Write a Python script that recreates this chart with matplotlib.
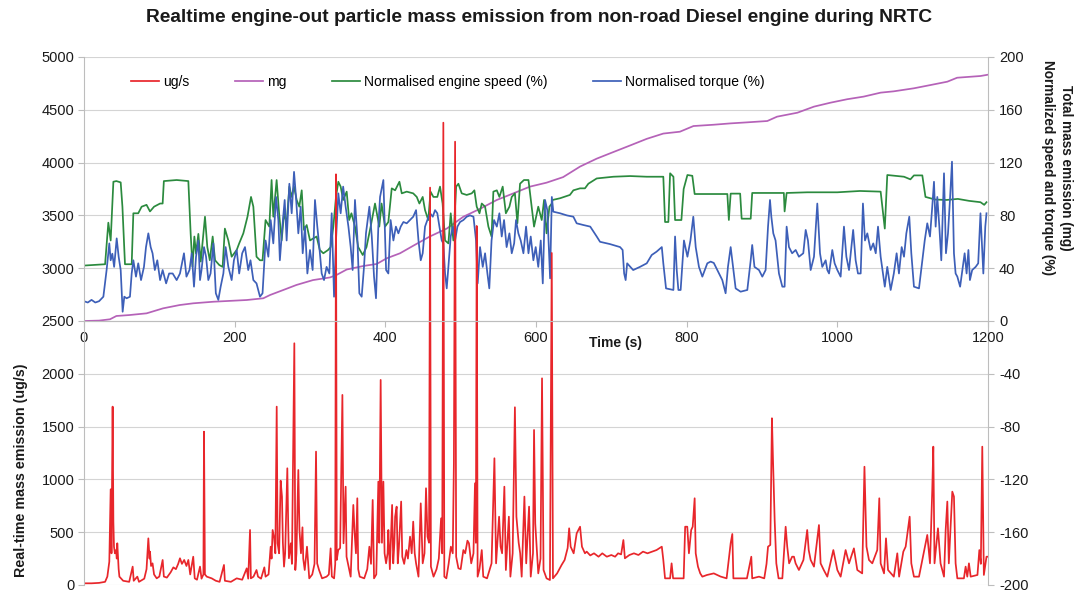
import matplotlib
matplotlib.use("Agg")
import matplotlib.pyplot as plt

plt.rcParams["font.family"] = ["Liberation Sans", "DejaVu Sans"]
plt.rcParams["axes.unicode_minus"] = False

RED = "#e8262b"
PURPLE = "#b562b8"
GREEN = "#2b8a3e"
BLUE = "#3d5fb8"
GRID = "#d4d4d4"
AXIS_GREY = "#bdbdbd"
TEXT = "#1a1a1a"

TITLE = "Realtime engine-out particle mass emission from non-road Diesel engine during NRTC"
X_TICKS = [0, 200, 400, 600, 800, 1000, 1200]
LEFT_TICKS = list(range(0, 5001, 500))
RIGHT_TICKS = list(range(-200, 201, 40))

# particle mass emission rate (ug/s), left axis
ugs_time = [
    0, 10, 20, 28, 31, 33.6, 35.4, 36.5, 38, 39, 39.8, 41, 42.5, 43.5, 44.2, 46, 47, 52, 60,
    64.6, 66, 70.8, 73, 80, 83, 85.4, 87, 87.6, 89, 91, 93, 96.5, 100, 104.4, 106, 110, 115,
    118.6, 122, 125, 127.4, 130, 133, 136, 138.5, 141, 145, 147, 150, 154, 156, 158.5, 159.3,
    160.5, 163, 169.5, 175, 180, 185.8, 187, 195, 202.7, 210, 216, 218, 220.4, 221.5, 225,
    229, 231, 235, 239.4, 241, 245, 247.8, 249, 250.4, 252.5, 254, 255.8, 257, 259, 261,
    262.8, 264, 265.5, 267, 269.9, 271, 272, 274.5, 276, 279.2, 280.5, 282, 284.5, 286, 288,
    290, 291, 293, 296, 299, 303, 306, 308, 309.5, 312, 316, 322, 325, 327.4, 329, 332,
    333.5, 334.5, 335.5, 337.5, 340, 343, 344.5, 347.3, 348.5, 352, 354, 357.5, 359, 361,
    362.8, 364, 366, 372, 376, 378.8, 381, 383.2, 385, 388, 390.7, 392, 393.8, 395.5, 397.4,
    399, 401, 403, 404, 406, 409, 410.5, 412, 413, 415, 416.5, 418, 421, 422.5, 425, 428,
    430, 432.8, 435, 437, 439, 440.8, 444, 447, 449.6, 452, 454, 456, 458, 459.4, 460.5, 464,
    468, 471, 474, 475.5, 477, 478.3, 481, 484, 487, 489.5, 491, 492.6, 494, 497, 500, 503.6,
    506, 509, 511, 514, 517, 519, 520.2, 521.3, 522.5, 525, 528, 530, 535, 541, 544.8, 547,
    551, 553, 555, 558, 560, 564, 566, 569, 572, 574, 577, 579, 581, 584.6, 587, 590.8, 593,
    596, 597.4, 599, 603, 606, 608, 610, 614, 618.5, 620.9, 622.5, 628, 634, 638, 642, 644,
    646, 650, 654, 658.5, 661, 665, 667.3, 672, 677, 683, 688, 694, 700, 705, 709, 713, 716,
    718, 724, 730, 736, 742, 748, 754, 760, 767, 769, 771.3, 774, 778, 780, 782, 790, 796,
    798, 800.8, 803, 806, 808, 810.6, 812, 815, 818, 820.8, 827, 836, 845, 853, 858.4, 860.6,
    862, 870, 880, 885.8, 887, 896, 903, 906, 908, 911, 913.2, 914.6, 916.8, 919, 922, 927,
    931.4, 933.5, 936, 940, 942.4, 944.6, 949, 955, 960, 962, 964.6, 969, 975.6, 977.8, 982,
    986.7, 994.7, 1000, 1004.4, 1011, 1015.5, 1022, 1026.5, 1033, 1036, 1038.7, 1042, 1046.4,
    1053, 1055.7, 1057.5, 1062, 1064.6, 1067.3, 1075, 1079.6, 1082, 1087.6, 1090.7, 1096,
    1098.2, 1101.7, 1108.4, 1115, 1119.4, 1123, 1126, 1127.4, 1129, 1133.6, 1137, 1141.6,
    1143.8, 1146, 1148, 1152.6, 1154.8, 1157, 1159.3, 1168, 1170.3, 1172.5, 1174.7, 1177,
    1186, 1188.5, 1190.5, 1192.4, 1194.5, 1198, 1200,
]
ugs_value = [
    16, 16, 20, 30, 80, 221, 906, 300, 1689, 600, 363, 300, 331, 250, 395, 150, 79, 40, 30,
    174, 40, 79, 30, 60, 150, 442, 250, 316, 180, 205, 100, 63, 80, 237, 80, 70, 120,
    167, 150, 200, 253, 200, 237, 180, 237, 100, 268, 63, 50, 174, 60, 100, 1452,
    100, 79, 63, 40, 30, 190, 40, 30, 63, 50, 158, 60, 521, 63, 79,
    142, 79, 60, 167, 79, 100, 363, 250, 521, 442, 300, 1689, 395, 300, 988,
    837, 400, 174, 300, 1105, 600, 253, 395, 200, 2289, 142, 300, 1089, 521, 300,
    546, 250, 142, 363, 63, 100, 200, 1263, 205, 142, 63, 79, 100, 347, 80, 63,
    200, 3889, 237, 331, 350, 1800, 395, 931, 268, 150, 79, 758, 521, 300,
    821, 150, 79, 63, 150, 363, 200, 805, 63, 100, 979, 400, 1942, 400, 979,
    300, 205, 300, 521, 150, 758, 205, 400, 647, 742, 205, 350, 790, 268, 200, 331,
    250, 458, 300, 600, 300, 205, 79, 773, 205, 300, 916, 458, 400, 3763, 174, 79,
    150, 250, 631, 300, 4378, 79, 63, 200, 363, 300, 1152, 4198, 268, 158, 150, 331,
    300, 420, 395, 205, 300, 963, 400, 3400, 79, 150, 331, 79, 63, 205, 1200, 205,
    647, 363, 300, 931, 142, 647, 79, 300, 1683, 647, 400, 300, 79, 837, 205, 742, 79,
    300, 1468, 583, 110, 250, 1957, 142, 63, 47, 3144, 63, 110, 190, 237, 350, 537,
    363, 300, 489, 552, 363, 300, 316, 280, 300, 268, 300, 268, 284, 268, 300, 290, 426,
    253, 284, 300, 284, 316, 300, 316, 331, 363, 237, 63, 63, 63, 205, 63, 63, 63,
    552, 552, 300, 521, 552, 821, 300, 174, 110, 79, 95, 110, 80, 63, 395, 483,
    63, 63, 63, 268, 63, 79, 63, 200, 363, 379, 1579, 1184, 616, 205, 63, 63,
    552, 363, 205, 268, 268, 205, 142, 237, 521, 331, 237, 174, 568, 205, 142,
    79, 331, 142, 79, 331, 205, 347, 142, 110, 1120, 363, 237, 205,
    331, 821, 205, 110, 442, 142, 79, 300, 79, 316, 363, 647,
    205, 79, 79, 316, 474, 205, 900, 1310, 205, 537, 205, 79,
    521, 790, 205, 884, 837, 205, 63, 63, 174, 79, 205, 79,
    95, 331, 200, 1310, 95, 268, 268,
]

# cumulative mass (mg), right axis
mass_time = [
    0, 20, 34.5, 43, 60, 83, 90, 105, 127, 145, 171.7, 216, 238, 247, 264.6, 282, 304, 326.5,
    335, 348.7, 371, 388.5, 401.8, 419.5, 437, 459, 481.5, 503.6, 525.7, 548, 570, 592, 614,
    636, 658.5, 680.6, 702.7, 725, 747, 769, 791, 809, 836, 858, 880.5, 907, 920, 947, 969,
    991, 1013, 1035, 1057.5, 1075, 1101.7, 1124, 1146, 1159, 1190, 1200,
]
mass_mg = [
    0, 0.3, 1.3, 3.8, 4.5, 5.8, 7, 9.6, 12.1, 13.4, 14.6, 15.9, 17.2, 19.7, 23.5, 27.3, 31, 33,
    34.8, 39, 41.7, 43.2, 47.5, 51.3, 57, 64, 70, 79, 85, 91.7, 96.7, 101.8, 104.8,
    109, 117, 123, 128, 133, 138, 142, 143.4, 147.7, 148.7, 149.7, 150.5, 151.5, 154.8, 157.8, 162.4,
    165.4, 168, 170, 173, 174, 176.3, 178.8, 181.3, 184.3, 185.6, 186.6,
]

# normalised engine speed (%), right axis
speed_time = [
    0, 28, 32.3, 35.4, 39, 43, 48.7, 51, 54.4, 63.3, 65.5, 72, 76.5, 83, 87.6, 93, 101, 104.4,
    106, 123, 138.5, 141.6, 144, 146.5, 148.7, 151.8, 155, 160.6, 163.7, 167, 170.8, 174, 179.6,
    184, 187, 191.6, 196, 202.7, 206, 211.5, 217, 221.7, 224.8, 229, 233.6, 237, 241, 246, 249,
    251.3, 255.7, 259, 262.4, 265.5, 269, 272.6, 275.7, 278.8, 282.3, 285.8, 289, 292, 295.6,
    300, 304.4, 308.8, 313, 317.7, 324, 327.4, 331, 334.5, 337.6, 340.7, 344, 348.7, 352, 355,
    359.7, 364, 370, 375, 380.5, 386.3, 392, 395, 399.6, 404, 408.5, 413, 418.7, 421.8, 428.4,
    437, 441.7, 445.2, 449.6, 452.7, 457, 460, 463.8, 469, 472.6, 476, 479.3, 483.7, 486.8,
    490.3, 494, 497, 501.4, 508, 514.7, 518.2, 521.3, 525, 528, 532.4, 536.8, 541, 543.4, 548,
    551.4, 555.8, 560, 564.7, 567.8, 572, 575.3, 578.8, 584, 590, 594.3, 597.4, 603, 607.6,
    610.7, 614, 617.8, 621, 622, 632, 645, 649.6, 658.5, 665, 669.5, 680.6, 702.7, 725, 747,
    769, 771.3, 775.7, 778, 782.4, 784.6, 793, 796, 801, 807.5, 810.6, 854, 856, 858.4, 871,
    873, 885, 887, 929, 930, 932.7, 960, 1000, 1030, 1057.5, 1063, 1066.3, 1088.5, 1097,
    1101.7, 1112.8, 1117, 1130, 1145, 1160, 1175, 1190, 1195, 1198,
]
speed_pct = [
    42, 43, 74.5, 61, 105.5, 106, 105, 86.6, 43, 43, 81.6, 81.6, 86.6, 88, 83, 86.6, 89, 89,
    106, 106.8, 106, 66, 41, 64, 51, 66, 45, 79, 56, 46, 64, 46, 42.4,
    41, 70, 61, 48.7, 53.8, 58.8, 66.4, 79, 94, 86.6, 48.7, 46, 46, 76.5, 71.5, 106.8,
    79, 106.8, 81.6, 61, 81.6, 74, 101.8, 94, 101.8, 91.7, 86.6, 99, 69, 72.7,
    61, 62.6, 64, 53.8, 51.3, 53.8, 56, 71.5, 94, 105.5, 101.8, 91.7, 98, 76.5, 81.6,
    71.5, 56, 50, 56, 71.5, 89, 71.5, 89, 71.5, 75, 100.5, 99, 105.5, 96.7, 98,
    96.7, 94, 89, 94, 84, 76.5, 98, 94, 94, 101.8, 89, 61, 58.8, 81.6,
    61, 101.8, 104, 96.7, 95.5, 96.7, 99, 86.6, 81.6, 89, 86.6, 71.5, 64, 98, 99,
    94, 101.8, 81.6, 86.6, 94, 96.7, 74, 104, 106.8, 106.8, 86.6, 71.5, 86.6, 76.5,
    91.7, 66.4, 86.6, 89, 91.7, 93, 95.5, 99, 100.5, 100.5, 104, 108, 109.3, 109.8, 109.3,
    109.3, 75, 75, 111.9, 109.3, 76.5, 76.5, 100, 110.6, 110, 96.2, 96.2, 76.5, 96.5, 96.5,
    77.5, 77.5, 97, 97, 83, 97, 97.5, 97.5, 98.5, 98, 70, 110.6, 109.3, 107.3,
    110.3, 110.3, 94, 92, 91.7, 92.5, 91, 90, 88, 90,
]

# normalised torque (%), right axis
torque_time = [
    0, 5, 10, 15, 20, 25.7, 30, 33.6, 35.4, 37.6, 40, 43.4, 46, 48.7, 51.3, 53.5, 56.6, 61,
    63.3, 65.5, 69, 72, 75.7, 79.6, 82.3, 85.4, 88.5, 91, 94, 97.3, 101, 104.4, 109, 113,
    117.7, 123, 127.4, 132.7, 136, 140, 143, 146, 148.7, 151.8, 154, 156, 159.3, 162, 165,
    168, 171.7, 175, 178.3, 181.4, 185, 188, 191.6, 196, 199, 202.7, 206, 210, 213.7, 218,
    221, 224.8, 229, 233.6, 237, 241, 244.7, 247.8, 251.3, 254.9, 258, 260, 263.3, 266.4, 269,
    272.6, 275.7, 278.8, 281.4, 284.5, 287.6, 290.3, 293.4, 296.5, 300, 303.5, 306.6, 309.7,
    312.4, 315.5, 318.6, 322, 325.7, 328.8, 331.9, 334.5, 337.6, 340.7, 344, 347.3, 351, 354,
    356.6, 359.7, 362.8, 365.5, 368.6, 371.7, 374.3, 378.8, 382, 385, 387.6, 390.7, 393,
    397.4, 401, 404, 407, 410.7, 414, 417.3, 420.4, 424, 428.4, 432.8, 437, 440.8, 444, 447,
    449.6, 452.7, 455.8, 459.4, 463, 466, 469, 471.8, 474.9, 477, 479.3, 481.5, 483.7, 486.8,
    489.5, 492.6, 495.7, 499.2, 503.6, 508, 512.5, 517, 520.4, 522.6, 525.7, 529.3, 532.4,
    535.5, 538, 541, 544.3, 548, 551.4, 554.5, 557.6, 561, 564.7, 567.8, 571, 573.5, 576.6,
    579.7, 583.3, 586.8, 590, 593, 596.5, 599.6, 603, 606.3, 609, 612, 615, 618.7, 621, 623,
    632, 641, 649.6, 654, 663, 672, 680.6, 685, 698, 711.6, 715, 717, 719, 721, 729, 738, 747,
    753.6, 760, 767, 769, 772.6, 782.4, 784.6, 786.8, 789, 792, 796.4, 801, 805, 808.8, 812,
    816.3, 820.8, 827.4, 831.8, 836, 840.7, 847.3, 851.7, 854.8, 858.4, 862, 865, 871.6,
    880.5, 885, 887, 890, 896, 900.4, 904.8, 908, 910.6, 912.4, 915, 918, 922.5, 927, 930,
    932.7, 935.8, 940, 944.7, 949, 954.8, 958, 961, 964.6, 969, 973.4, 977, 980, 984.5,
    986.7, 989, 993.3, 996.4, 1000, 1004.4, 1008.8, 1012, 1015.5, 1021, 1024.3, 1027.4, 1031,
    1034, 1036.7, 1039.8, 1044.2, 1047.7, 1051, 1054, 1057.5, 1063, 1066.3, 1070.8, 1075,
    1078.7, 1081.8, 1085.4, 1088.5, 1091.6, 1095.5, 1098.2, 1101.7, 1108.4, 1112.8, 1116,
    1119.4, 1123, 1126, 1128.3, 1130.5, 1132.7, 1135.4, 1138, 1141.6, 1144.2, 1146.9, 1149.5,
    1152.2, 1154.8, 1157, 1159.3, 1163, 1166, 1169, 1171.6, 1174, 1176, 1179, 1183.6, 1187,
    1190, 1193.8, 1196.4, 1198,
]
torque_pct = [
    15, 14, 16, 14, 15, 18.4, 38.6, 58.8, 46, 51, 41, 62.6, 48.7, 38.6, 7, 18.4, 17.2, 18.4,
    36, 46, 33.6, 43.7, 31, 41, 56, 66.4, 56, 51.3, 38.6, 46, 31, 38.6, 28.5, 36,
    36, 31, 36, 51.3, 33.6, 38.6, 51.3, 26, 48.7, 61, 31, 38.6, 56, 48.7, 31,
    36, 58.8, 21, 16, 26, 36, 56, 41, 31, 46, 53.8, 36, 51.3, 56, 38.6,
    46, 31, 28.5, 18.4, 21, 61, 48.7, 76.5, 58.8, 94, 76.5, 46, 71.5, 91.7, 61,
    104, 81.6, 113, 94, 66.4, 86.6, 51.3, 71.5, 36, 53.8, 38.6, 91.7, 71.5,
    56, 36, 31, 41, 36, 81.6, 18.4, 61, 96.7, 81.6, 101.8, 86.6, 71.5, 56,
    38.6, 91.7, 64, 21, 18.4, 41, 66.4, 86.6, 64, 33.6, 17.2, 71.5, 94,
    106.8, 38.6, 36, 76.5, 61, 71.5, 66.4, 71.5, 75, 74, 76.5, 79, 84, 61, 46,
    51.3, 71.5, 76.5, 81.6, 79, 84, 81.6, 71.5, 61, 58.8, 36, 24.7, 41, 64,
    71.5, 61, 71.5, 75, 76.5, 79, 80, 79, 61, 28.5, 56, 41, 51.3,
    36, 24.7, 61, 76.5, 71.5, 81.6, 64, 76.5, 56, 66.4, 51.3, 58.8, 76.5, 66.4,
    61, 51.3, 71.5, 51.3, 64, 46, 56, 41, 61, 28.5, 91.7, 84, 32.3, 94, 82.8,
    81.6, 80, 79, 74, 72.7, 71.5, 64, 60, 58.3, 56, 53.8, 36, 31, 43.7, 38.6, 41, 43.7,
    50, 52.5, 56, 43.7, 24.7, 23.5, 64, 38.6, 23.5, 23.5, 61, 48.7, 61, 79, 56,
    41, 33.6, 43.7, 45, 44, 38.6, 31, 21, 41, 56, 38.6, 24.7, 22.2,
    23.5, 46, 57.6, 41, 38.6, 33.6, 38.6, 71.5, 91.7, 79, 66.4, 61, 36, 26, 26,
    71.5, 56, 51.3, 53.8, 48.7, 51.3, 69, 61, 38.6, 48.7, 89, 51.3, 41, 46,
    38.6, 36, 53.8, 43.7, 38.6, 33.6, 71.5, 48.7, 38.6, 69, 46, 36, 36,
    89, 61, 66.4, 53.8, 58.8, 51.3, 71.5, 48.7, 26, 41, 23.5, 36,
    51.3, 36, 56, 48.7, 66.4, 79, 51.3, 26, 24.7, 46, 61,
    74, 64, 86.6, 105.5, 71.5, 94, 71.5, 46, 111.9, 51.3, 66.4, 91.7,
    120.7, 51.3, 36, 33.6, 26, 38.6, 51.3, 36, 53.8, 31, 38.6, 41, 43.7,
    81.6, 36, 71.5, 81.6,
]

fig = plt.figure(figsize=(10.77, 5.95), dpi=100)
ax = fig.add_axes([84 / 1077, 10 / 595, 904 / 1077, 528 / 595])
ax2 = ax.twinx()

# red trace sits above the right-axis traces
ax.set_zorder(ax2.get_zorder() + 1)
ax.patch.set_visible(False)

line_ugs, = ax.plot(ugs_time, ugs_value, color=RED, lw=1.25, label="ug/s")
line_mg, = ax2.plot(mass_time, mass_mg, color=PURPLE, lw=1.25, label="mg")
line_speed, = ax2.plot(speed_time, speed_pct, color=GREEN, lw=1.25,
                       label="Normalised engine speed (%)")
line_torque, = ax2.plot(torque_time, torque_pct, color=BLUE, lw=1.25,
                        label="Normalised torque (%)")

ax.set_xlim(0, 1200)
ax.set_ylim(0, 5000)
ax2.set_ylim(-200, 200)
ax.set_xticks(X_TICKS)
ax.set_yticks(LEFT_TICKS)
ax2.set_yticks(RIGHT_TICKS)

ax2.yaxis.grid(True, color=GRID, lw=0.8)
ax2.set_axisbelow(True)

ax.spines["bottom"].set_position(("data", 2500))
for name in ("top", "right"):
    ax.spines[name].set_visible(False)
for name in ("top", "bottom", "left"):
    ax2.spines[name].set_visible(False)
for sp in (ax.spines["left"], ax.spines["bottom"], ax2.spines["right"]):
    sp.set_color(AXIS_GREY)
    sp.set_linewidth(0.8)

ax.tick_params(axis="both", length=4, width=0.8, color=AXIS_GREY,
               labelsize=10.5, labelcolor=TEXT, pad=3)
ax2.tick_params(axis="y", length=4, width=0.8, color=AXIS_GREY,
                labelsize=10.5, labelcolor=TEXT, pad=4)

ax.text(706, 2290, "Time (s)", fontsize=10, fontweight="bold", color=TEXT,
        ha="center", va="center")

fig.text(539 / 1077, 1 - 18 / 595, TITLE, fontsize=13.8, fontweight="bold",
         color=TEXT, ha="center", va="center")
fig.text(21 / 1077, 1 - 470 / 595, "Real-time mass emission (ug/s)", fontsize=10.3,
         fontweight="bold", color=TEXT, rotation=90, ha="center", va="center")
fig.text(1057 / 1077, 1 - 168 / 595,
         "Total mass emission (mg)\nNormalized speed and torque (%)",
         fontsize=9.8, fontweight="bold", color=TEXT, rotation=270,
         ha="center", va="center", multialignment="center", linespacing=1.4)

ax.legend(handles=[line_ugs, line_mg, line_speed, line_torque], loc="center left",
          bbox_to_anchor=(0.052, 0.9527), ncol=4, frameon=False, fontsize=10,
          handlelength=2.0, handletextpad=0.3, columnspacing=3.3,
          borderaxespad=0, borderpad=0)

fig.savefig("out.png", dpi=100)
